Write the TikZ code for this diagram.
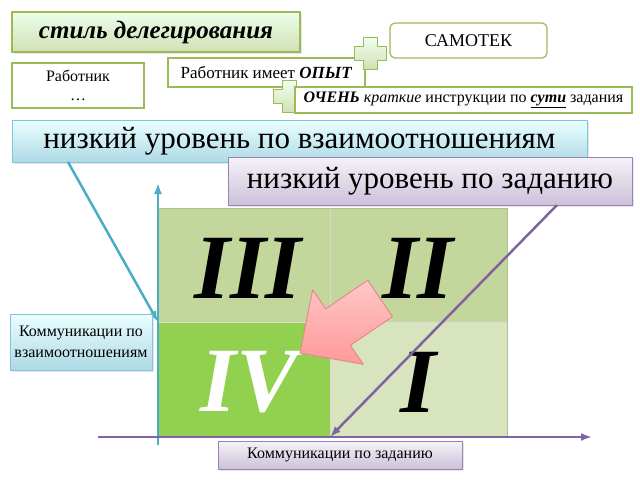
\documentclass[tikz,border=0pt]{standalone}
\usepackage{fontspec}
\setmainfont{Liberation Serif}
\usetikzlibrary{shadows, arrows.meta}

\definecolor{greenline}{HTML}{9BBB59}
\definecolor{bluecol}{HTML}{4BACC6}
\definecolor{purplecol}{HTML}{8064A2}
\definecolor{cellmid}{HTML}{C3D69B}
\definecolor{celldark}{HTML}{92D050}
\definecolor{celllight}{HTML}{D7E4BD}
\definecolor{pinkline}{HTML}{E38C8C}

\tikzset{
	softshadow/.style = {drop shadow = {opacity = 0.2, shadow xshift = 1.5pt, shadow yshift = -1.5pt}},
	greenbox/.style = {draw = greenline, line width = 1.2pt, fill = white, inner sep = 0pt, align = center},
	titlebox/.style = {greenbox, top color = green!8!white, bottom color = greenline!45!white, softshadow},
	bluebox/.style = {draw = bluecol!70, line width = 1pt, top color = cyan!8!white, bottom color = bluecol!45!white, inner sep = 0pt, align = center, softshadow},
	purplebox/.style = {draw = purplecol!80, line width = 1pt, top color = purplecol!8!white, bottom color = purplecol!40!white, inner sep = 0pt, align = center, softshadow},
	plusmark/.style = {draw = greenline, line width = 1pt, top color = green!6!white, bottom color = greenline!45!white},
	numeral/.style = {font = \fontsize{92}{92}\selectfont\bfseries\itshape}
}

\begin{document}
\begin{tikzpicture}[> = {Latex[length = 11pt, width = 8pt]}, x = 1pt, y = -1pt]

	% Definitions
	
	\def\Xl{158}	% Left edge of grid
	\def\Xm{330}	% Middle of grid
	\def\Xr{507}	% Right edge of grid
	\def\Yt{208}	% Top edge of grid
	\def\Ym{322}	% Middle of grid
	\def\Yb{437}	% Bottom edge of grid
	
	\useasboundingbox (0,0) rectangle (640,480);
	
	% Draw header boxes
	
	\node [titlebox, minimum width = 288pt, minimum height = 40pt, font = \fontsize{25}{26}\selectfont\bfseries\itshape] (style) at (156,32) {стиль делегирования};
	\node [greenbox, minimum width = 132pt, minimum height = 45pt, font = \fontsize{16}{19}\selectfont] (worker) at (78,85.5) {Работник\\\dots};
	\node [greenbox, minimum width = 197pt, minimum height = 29pt, font = \fontsize{17}{18}\selectfont] (exper) at (266.5,72.5) {Работник имеет \textbf{\textit{ОПЫТ}}};
	\node [greenbox, rounded corners = 5pt, minimum width = 157pt, minimum height = 35pt, font = \fontsize{18}{18}\selectfont] (samotek) at (468.5,40.5) {САМОТЕК};
	
	% Draw plus marks
	
	\foreach \px/\py in {370/53, 289/96}
		\draw [plusmark, shift = {(\px,\py)}] (-7,-16) -- (7,-16) -- (7,-7) -- (16,-7) -- (16,7) -- (7,7) -- (7,16) -- (-7,16) -- (-7,7) -- (-16,7) -- (-16,-7) -- (-7,-7) -- cycle;
	
	\node [greenbox, minimum width = 337pt, minimum height = 26pt, font = \fontsize{16}{16}\selectfont] (instr) at (463.5,100) {\textbf{\textit{ОЧЕНЬ}} \textit{краткие} инструкции по \underline{\textbf{\textit{сути}}} задания};
	
	% Draw quadrants
	
	\fill [cellmid] (\Xl,\Yt) rectangle (\Xr,\Ym);
	\fill [celldark] (\Xl,\Ym) rectangle (\Xm,\Yb);
	\fill [celllight] (\Xm,\Ym) rectangle (\Xr,\Yb);
	\draw [white!85!black, line width = 0.5pt] (\Xm,\Yt) -- (\Xm,\Yb) (\Xl,\Ym) -- (\Xr,\Ym);
	\draw [cellmid!90!black, line width = 0.5pt] (\Xl,\Yt) rectangle (\Xr,\Yb);
	
	\node [numeral] (q3) at (248,268) {III};
	\node [numeral] (q2) at (418,268) {II};
	\node [numeral, white] (q4) at (249,382) {IV};
	\node [numeral] (q1) at (418,382) {I};
	
	% Draw level boxes
	
	\node [bluebox, minimum width = 575pt, minimum height = 42pt, font = \fontsize{31}{31}\selectfont] (lowrel) at (299.5,141) {низкий уровень по взаимоотношениям};
	\node [purplebox, minimum width = 404pt, minimum height = 48pt, font = \fontsize{31}{31}\selectfont] (lowtask) at (430,181) {низкий уровень по заданию};
	
	% Draw axes
	
	\coordinate (vbot) at (\Xl,445);
	\coordinate (vtop) at (\Xl,183);
	\coordinate (hleft) at (98,\Yb);
	\coordinate (hright) at (592,\Yb);
	
	\draw [->, bluecol, line width = 2.5pt] (vbot) -- (vtop);
	\draw [->, purplecol, line width = 2.5pt] (hleft) -- (hright);
	
	% Draw pointer arrows
	
	\coordinate (relfrom) at (68,162);
	\coordinate (relto) at (\Xl,\Ym);
	\coordinate (taskfrom) at (557,205);
	\coordinate (taskto) at (\Xm,\Yb);
	
	\draw [->, bluecol, line width = 2.5pt] (relfrom) -- (relto);
	\draw [->, purplecol, line width = 2.5pt] (taskfrom) -- (taskto);
	
	% Draw axis labels
	
	\node [bluebox, minimum width = 142pt, minimum height = 56pt, font = \fontsize{16}{21}\selectfont] (relaxis) at (81,342) {Коммуникации по\\взаимоотношениям};
	\node [purplebox, minimum width = 244pt, minimum height = 28pt, font = \fontsize{16}{16}\selectfont] (taskaxis) at (340,455) {Коммуникации по заданию};
	
	% Draw block arrow
	
	\draw [pinkline, line width = 1pt, top color = red!22!white, bottom color = red!40!white, line join = round]
		(300,353) -- (312.7,289.9) -- (325.6,308.9) -- (367.7,280.2) -- (392.5,316.6) -- (350.4,345.3) -- (363.3,364.3) -- cycle;
	
\end{tikzpicture}
\end{document}
